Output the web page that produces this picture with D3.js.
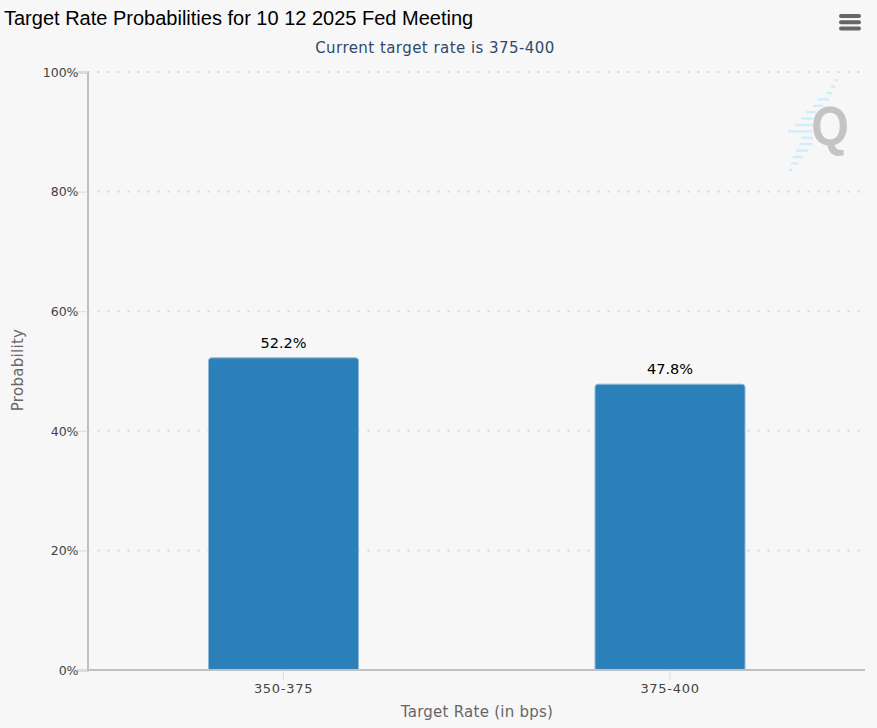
<!DOCTYPE html>
<html>
<head>
<meta charset="utf-8">
<script src="https://cdn.jsdelivr.net/npm/d3@7"></script>
<style>
  html, body { margin: 0; padding: 0; background: #f7f7f7; }
  svg { display: block; }
  text { font-family: "DejaVu Sans", sans-serif; }
</style>
</head>
<body>
<div id="chart"></div>
<script>
const categories = ["350-375", "375-400"];
const probabilities = [52.2, 47.8];
const yTicks = [0, 20, 40, 60, 80, 100];
const titleText = "Target Rate Probabilities for 10 12 2025 Fed Meeting";
const subtitleText = "Current target rate is 375-400";

const width = 877, height = 728;
const svg = d3.select("#chart").append("svg")
    .attr("width", width)
    .attr("height", height)
    .style("background", "#f7f7f7");

const x = d3.scaleBand().domain(categories).range([90.25, 863.25]);
const y = d3.scaleLinear().domain([0, 100]).range([670, 72]);
const barWidth = 150;

// watermark logo, streaks behind the Q
const streaks = [[835, 3], [831, 4], [826, 6], [818, 11], [813, 10], [806, 10], [801, 12],
    [795, 18], [788, 24], [801, 12], [799, 13], [796, 12], [793, 10], [791, 7], [789, 3]];
svg.append("g").selectAll("rect")
    .data(streaks)
    .enter().append("rect")
    .attr("x", d => d[0])
    .attr("y", (d, i) => 79 + i * 6.4)
    .attr("width", d => d[1])
    .attr("height", 2.4)
    .attr("fill", "#cfedfb");
svg.append("text")
    .attr("transform", "translate(830,145) scale(0.88,1)")
    .attr("text-anchor", "middle")
    .style("font-family", "'Liberation Sans', sans-serif")
    .style("font-weight", "bold")
    .style("font-size", "55px")
    .attr("fill", "#c4c4c4")
    .text("Q");

// grid
svg.append("g").selectAll("line")
    .data(yTicks)
    .enter().append("line")
    .attr("x1", 87.5)
    .attr("x2", 865)
    .attr("y1", d => y(d))
    .attr("y2", d => y(d))
    .attr("stroke", "#d8d8d8")
    .attr("stroke-width", 2)
    .attr("stroke-dasharray", "2,8");

// bars, rounded on top only
svg.append("g").selectAll("path")
    .data(categories)
    .enter().append("path")
    .attr("d", (c, i) => {
        const left = x(c) + x.bandwidth() / 2 - barWidth / 2;
        const top = y(probabilities[i]);
        const r = 3;
        return `M${left},${y(0)}V${top + r}Q${left},${top} ${left + r},${top}` +
            `H${left + barWidth - r}Q${left + barWidth},${top} ${left + barWidth},${top + r}V${y(0)}Z`;
    })
    .attr("fill", "#2b80b9")
    .attr("stroke", "#8fb9d6")
    .attr("stroke-width", 1);

// value labels
svg.append("g").selectAll("text")
    .data(categories)
    .enter().append("text")
    .attr("x", c => x(c) + x.bandwidth() / 2)
    .attr("y", (c, i) => y(probabilities[i]) - 10)
    .attr("text-anchor", "middle")
    .attr("fill", "#000")
    .style("font-size", "14.5px")
    .text((c, i) => probabilities[i].toFixed(1) + "%");

// y axis
const yAxis = svg.append("g")
    .attr("transform", "translate(87.5,0)")
    .call(d3.axisLeft(y).tickValues(yTicks).tickFormat(d => d + "%").tickSize(10).tickPadding(-1));
yAxis.select(".domain").attr("stroke", "#c0c0c0").attr("stroke-width", 2);
yAxis.selectAll(".tick line").attr("stroke", "#dcdcdc");
yAxis.selectAll(".tick text")
    .attr("fill", "#444")
    .attr("dy", "0.35em")
    .style("font-family", "'DejaVu Sans', sans-serif")
    .style("font-size", "12.5px");

// x axis
const xAxis = svg.append("g")
    .attr("transform", "translate(0,670)")
    .call(d3.axisBottom(x).tickSize(10).tickSizeOuter(0).tickPadding(4));
xAxis.select(".domain")
    .attr("d", "M87.5,0H865")
    .attr("stroke", "#c0c0c0")
    .attr("stroke-width", 2);
xAxis.selectAll(".tick line").attr("stroke", "#dcdcdc");
xAxis.selectAll(".tick text")
    .attr("fill", "#444")
    .style("font-family", "'DejaVu Sans', sans-serif")
    .style("font-size", "13px")
    .style("letter-spacing", "0.7px");

// titles
svg.append("text")
    .attr("x", 4)
    .attr("y", 25)
    .attr("fill", "#000")
    .style("font-family", "'Liberation Sans', sans-serif")
    .style("font-size", "20px")
    .text(titleText);
svg.append("text")
    .attr("x", 435)
    .attr("y", 53)
    .attr("text-anchor", "middle")
    .attr("fill", "#2f4a6d")
    .style("font-size", "15px")
    .style("letter-spacing", "0.45px")
    .text(subtitleText);
svg.append("text")
    .attr("x", 477)
    .attr("y", 717)
    .attr("text-anchor", "middle")
    .attr("fill", "#666")
    .style("font-size", "15px")
    .style("letter-spacing", "0.25px")
    .text("Target Rate (in bps)");
svg.append("text")
    .attr("transform", "translate(23,370) rotate(-90)")
    .attr("text-anchor", "middle")
    .attr("fill", "#666")
    .style("font-size", "15px")
    .style("letter-spacing", "0.3px")
    .text("Probability");

// menu icon
svg.append("g").selectAll("rect")
    .data([0, 1, 2])
    .enter().append("rect")
    .attr("x", 839)
    .attr("y", d => 14 + d * 6.3)
    .attr("width", 22)
    .attr("height", 4)
    .attr("rx", 2)
    .attr("fill", "#666");
</script>
</body>
</html>
